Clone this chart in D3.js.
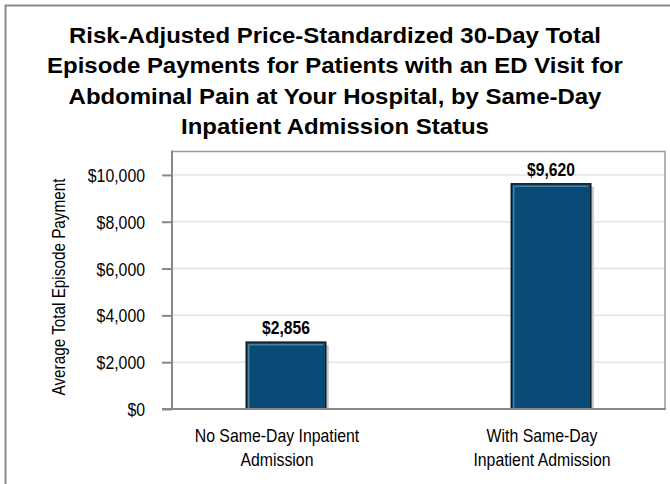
<!DOCTYPE html>
<html><head><meta charset="utf-8">
<script src="https://cdn.jsdelivr.net/npm/d3@7"></script>
<style>
body{margin:0;background:#fff;}
text{font-family:"Liberation Sans",Arial,sans-serif;}
.title{font-weight:bold;font-size:21.5px;}
</style></head>
<body>
<script>
const titleLines = ["Risk-Adjusted Price-Standardized 30-Day Total","Episode Payments for Patients with an ED Visit for","Abdominal Pain at Your Hospital, by Same-Day","Inpatient Admission Status"];
const categories = [["No Same-Day Inpatient","Admission"],["With Same-Day","Inpatient Admission"]];
const values = [2856, 9620];
const tickValues = [0,2000,4000,6000,8000,10000];
const yTitle = "Average Total Episode Payment";

const W=670,H=484;
const svg=d3.select("body").append("svg").attr("width",W).attr("height",H);
svg.append("path").attr("d","M5.5,484 V5.5 H670").attr("fill","none").attr("stroke","#8a8a8a").attr("stroke-width",2);

const sx=(cx,s)=>`translate(${cx},0) scale(${s},1) translate(${-cx},0)`;

const t=svg.append("text").attr("class","title").attr("text-anchor","middle").attr("fill","#000").attr("transform",sx(335,1.115));
titleLines.forEach((l,i)=>t.append("tspan").attr("x",335).attr("y",43+i*30.5).text(l));

const L=172,R=665,T=151.5,B=409;
const y=d3.scaleLinear().domain([0,11000]).range([B,T]);
const x=d3.scaleBand().domain(d3.range(values.length)).range([L,R]).paddingInner(0.7).paddingOuter(0.28);

svg.append("g").selectAll("line").data(tickValues.filter(v=>v>0)).join("line")
 .attr("x1",L).attr("x2",R).attr("y1",d=>y(d)).attr("y2",d=>y(d)).attr("stroke","#e3e3e3").attr("stroke-width",1.5);
svg.append("path").attr("d",`M${L},${T} H${R} V${B}`).attr("fill","none").attr("stroke","#999").attr("stroke-width",1.5);

const fmt=d3.format("$,");
const g=svg.append("g");
values.forEach((v,i)=>{
  const x0=x(i), w=x.bandwidth(), y0=y(v), h=B-y0;
  g.append("rect").attr("x",x0+3).attr("y",y0+3).attr("width",w).attr("height",h-3).attr("fill","#c8c8c8");
  g.append("rect").attr("x",x0).attr("y",y0).attr("width",w).attr("height",h).attr("fill","#0a4a76").attr("stroke","#0c1e2c").attr("stroke-width",1.5);
  g.append("path").attr("d",`M${x0+2.5},${B} V${y0+2.5} H${x0+w-2.5}`).attr("fill","none").attr("stroke","#4d7da0").attr("stroke-width",1.5);
  const cx=x0+w/2;
  g.append("text").attr("x",cx).attr("y",y0-8).attr("text-anchor","middle").attr("font-weight","bold").attr("font-size","18px").attr("transform",sx(cx,0.87)).text(fmt(v));
});

const ts=0.88;
const ya=svg.append("g").attr("transform",`translate(${L},0)`).call(d3.axisLeft(y).tickValues(tickValues).tickSize(10).tickPadding(8).tickFormat(fmt));
ya.select(".domain").remove();
ya.selectAll(".tick line").attr("stroke","#888").attr("stroke-width",2);
ya.selectAll(".tick text").attr("font-size","18px").attr("fill","#000").attr("font-family",null).attr("transform",`scale(${ts},1)`).attr("x",-27/ts).attr("dy","0.36em");
svg.append("line").attr("x1",L).attr("x2",L).attr("y1",T-1).attr("y2",B+1).attr("stroke","#888").attr("stroke-width",2);
svg.append("line").attr("x1",L-10).attr("x2",R+1).attr("y1",B).attr("y2",B).attr("stroke","#888").attr("stroke-width",2);

categories.forEach((c,i)=>{
  const cx=x(i)+x.bandwidth()/2-9;
  const tx=svg.append("text").attr("text-anchor","middle").attr("font-size","18px").attr("transform",sx(cx,0.88));
  c.forEach((l,j)=>tx.append("tspan").attr("x",cx).attr("y",442+j*24.5).text(l));
});

svg.append("text").attr("transform","translate(65,287) rotate(-90) scale(0.85,1)").attr("text-anchor","middle").attr("font-size","18px").text(yTitle);
</script>
</body></html>
